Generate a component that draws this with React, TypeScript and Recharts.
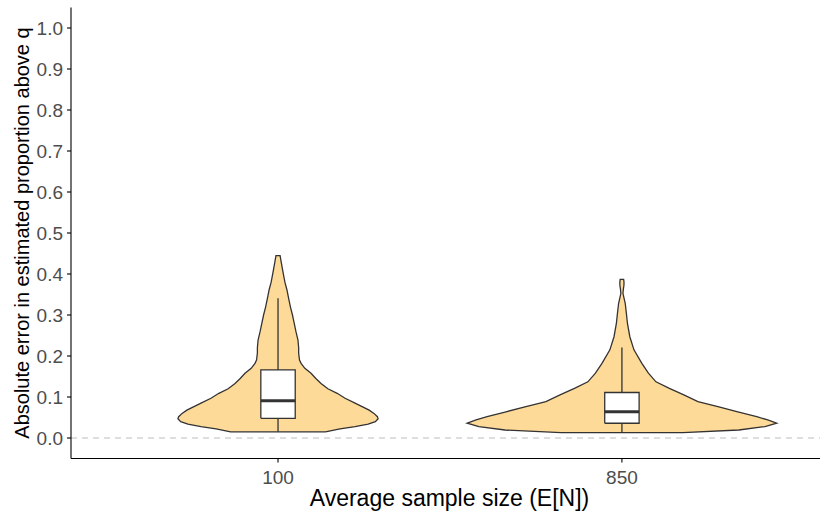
import React from 'react';
import { ComposedChart, Area, Line, XAxis, YAxis, ReferenceLine, Label } from 'recharts';

// Categories (x axis) and their positions
const categories = ['100', '850'];
const positions = [1, 2];

// Y axis ticks
const yTicks = [0, 0.1, 0.2, 0.3, 0.4, 0.5, 0.6, 0.7, 0.8, 0.9, 1.0];

// Violin for E[N]=100: y values and half-widths (in category units)
const violin100Y = [0.015, 0.022, 0.028, 0.034, 0.040, 0.047, 0.052, 0.060, 0.068, 0.085, 0.097, 0.109, 0.120, 0.133, 0.145, 0.158, 0.170, 0.182, 0.190, 0.207, 0.220, 0.239, 0.260, 0.280, 0.300, 0.320, 0.340, 0.361, 0.380, 0.402, 0.430, 0.445];
const violin100W = [0.138, 0.180, 0.224, 0.262, 0.283, 0.291, 0.289, 0.279, 0.265, 0.224, 0.195, 0.172, 0.145, 0.125, 0.110, 0.096, 0.078, 0.067, 0.0625, 0.060, 0.060, 0.058, 0.052, 0.047, 0.042, 0.036, 0.031, 0.026, 0.020, 0.015, 0.009, 0.006];

// Violin for E[N]=850
const violin850Y = [0.013, 0.0195, 0.028, 0.036, 0.044, 0.052, 0.064, 0.076, 0.089, 0.105, 0.121, 0.137, 0.158, 0.182, 0.215, 0.247, 0.280, 0.304, 0.328, 0.353, 0.365, 0.373, 0.381, 0.387];
const violin850W = [0.177, 0.340, 0.416, 0.450, 0.424, 0.392, 0.337, 0.282, 0.221, 0.180, 0.138, 0.099, 0.077, 0.058, 0.035, 0.023, 0.016, 0.013, 0.0097, 0.003, 0.0045, 0.006, 0.006, 0.005];

// Box plot stats: [lower whisker, q1, median, q3, upper whisker]
const box100 = [0.015, 0.048, 0.091, 0.166, 0.341];
const box850 = [0.013, 0.036, 0.064, 0.111, 0.221];
const boxHalf = 0.05;

const VIOLIN_FILL = '#FEDA99';
const INK = '#333333';

function violinFill(center: number, ys: number[], ws: number[]) {
  return ys.map((y, i) => ({ y, range: [center - ws[i], center + ws[i]] }));
}
function violinOutline(center: number, ys: number[], ws: number[]) {
  const right = ys.map((y, i) => ({ y, x: center + ws[i] }));
  const left = ys.map((y, i) => ({ y, x: center - ws[i] })).reverse();
  return [...right, ...left, right[0]];
}
function boxFill(center: number, s: number[]) {
  return [
    { y: s[1], range: [center - boxHalf, center + boxHalf] },
    { y: s[3], range: [center - boxHalf, center + boxHalf] },
  ];
}
function boxOutline(center: number, s: number[]) {
  return [
    { y: s[1], x: center - boxHalf },
    { y: s[1], x: center + boxHalf },
    { y: s[3], x: center + boxHalf },
    { y: s[3], x: center - boxHalf },
    { y: s[1], x: center - boxHalf },
  ];
}
function median(center: number, s: number[]) {
  return [
    { y: s[2], x: center - boxHalf },
    { y: s[2], x: center + boxHalf },
  ];
}
function whiskerLow(center: number, s: number[]) {
  return [{ y: s[0], x: center }, { y: s[1], x: center }];
}
function whiskerHigh(center: number, s: number[]) {
  return [{ y: s[3], x: center }, { y: s[4], x: center }];
}

const groups = [
  { c: positions[0], ys: violin100Y, ws: violin100W, box: box100 },
  { c: positions[1], ys: violin850Y, ws: violin850W, box: box850 },
];

const FONT = '"Liberation Sans", Arial, Helvetica, sans-serif';

export default function App() {
  return (
    <div style={{ position: 'absolute', left: 0, top: 0, width: 820, height: 514, background: '#fff', fontFamily: FONT }}>
      <ComposedChart
        layout="vertical"
        width={820}
        height={514}
        margin={{ top: 7.5, right: 0, bottom: 0, left: 0 }}
      >
        <XAxis
          type="number"
          dataKey="x"
          domain={[0.398, 2.576]}
          ticks={positions}
          allowDataOverflow
          tickFormatter={(v: number) => categories[positions.indexOf(v)] ?? ''}
          height={55.5}
          axisLine={{ stroke: '#000', strokeWidth: 1.1 }}
          tickLine={{ stroke: '#000', strokeWidth: 1.1 }}
          tickSize={4}
          tickMargin={8.5}
          tick={{ fill: '#4D4D4D', fontSize: 19, fontFamily: FONT }}
        >
          <Label
            value="Average sample size (E[N])"
            position="insideBottom"
            offset={8}
            dx={4}
            style={{ fill: '#000', fontSize: 23, fontFamily: FONT }}
          />
        </XAxis>
        <YAxis
          type="number"
          dataKey="y"
          domain={[-0.05, 1.05]}
          reversed
          ticks={yTicks}
          allowDataOverflow
          tickFormatter={(v: number) => v.toFixed(1)}
          width={71}
          axisLine={{ stroke: '#000', strokeWidth: 1.1 }}
          tickLine={{ stroke: '#000', strokeWidth: 1.1 }}
          tickSize={4}
          tickMargin={4}
          tick={{ fill: '#4D4D4D', fontSize: 19, fontFamily: FONT }}
        >
          <Label
            value="Absolute error in estimated proportion above q"
            position="center"
            angle={-90}
            dx={-14}
            style={{ fill: '#000', fontSize: 20, fontFamily: FONT, textAnchor: 'middle' }}
          />
        </YAxis>
        <ReferenceLine y={0} stroke="#BEBEBE" strokeWidth={1.1} strokeDasharray="6 5" />
        {groups.map((g, i) => (
          <Area
            key={`vf${i}`}
            data={violinFill(g.c, g.ys, g.ws)}
            dataKey="range"
            type="linear"
            fill={VIOLIN_FILL}
            fillOpacity={1}
            stroke="none"
            isAnimationActive={false}
            dot={false}
            activeDot={false}
          />
        ))}
        {groups.map((g, i) => (
          <Area
            key={`bf${i}`}
            data={boxFill(g.c, g.box)}
            dataKey="range"
            type="linear"
            fill="#ffffff"
            fillOpacity={1}
            stroke="none"
            isAnimationActive={false}
            dot={false}
            activeDot={false}
          />
        ))}
        {groups.map((g, i) => (
          <Line
            key={`vo${i}`}
            data={violinOutline(g.c, g.ys, g.ws)}
            dataKey="x"
            type="linear"
            stroke={INK}
            strokeWidth={1.3}
            dot={false}
            activeDot={false}
            isAnimationActive={false}
          />
        ))}
        {groups.map((g, i) => (
          <Line
            key={`wl${i}`}
            data={whiskerLow(g.c, g.box)}
            dataKey="x"
            type="linear"
            stroke={INK}
            strokeWidth={1.3}
            dot={false}
            activeDot={false}
            isAnimationActive={false}
          />
        ))}
        {groups.map((g, i) => (
          <Line
            key={`wh${i}`}
            data={whiskerHigh(g.c, g.box)}
            dataKey="x"
            type="linear"
            stroke={INK}
            strokeWidth={1.3}
            dot={false}
            activeDot={false}
            isAnimationActive={false}
          />
        ))}
        {groups.map((g, i) => (
          <Line
            key={`bo${i}`}
            data={boxOutline(g.c, g.box)}
            dataKey="x"
            type="linear"
            stroke={INK}
            strokeWidth={1.3}
            dot={false}
            activeDot={false}
            isAnimationActive={false}
          />
        ))}
        {groups.map((g, i) => (
          <Line
            key={`md${i}`}
            data={median(g.c, g.box)}
            dataKey="x"
            type="linear"
            stroke={INK}
            strokeWidth={3}
            dot={false}
            activeDot={false}
            isAnimationActive={false}
          />
        ))}
      </ComposedChart>
    </div>
  );
}
